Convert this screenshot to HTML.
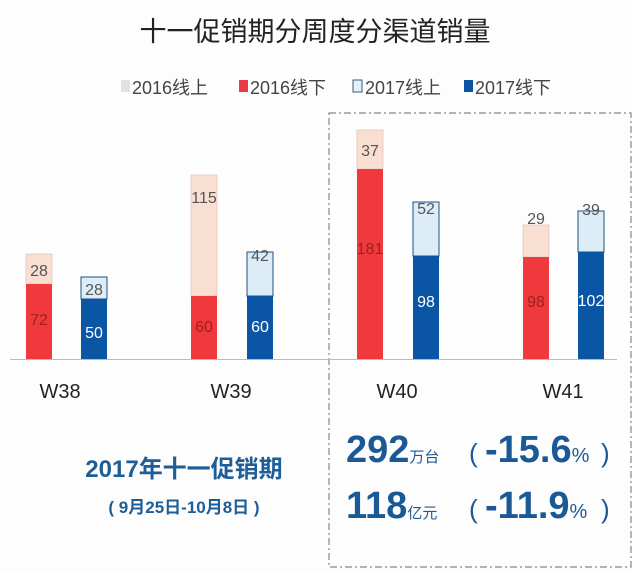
<!DOCTYPE html>
<html><head><meta charset="utf-8"><style>
html,body{margin:0;padding:0;background:#fff;}
svg{display:block;font-family:"Liberation Sans","Noto Sans CJK SC",sans-serif;}
</style></head><body>
<svg width="633" height="572" viewBox="0 0 633 572" xmlns="http://www.w3.org/2000/svg">
<rect width="633" height="572" fill="#fdfdfd"/>
<text x="315" y="41" font-size="27" text-anchor="middle" fill="#222">十一促销期分周度分渠道销量</text>
<g font-size="18" fill="#444">
<rect x="121" y="80" width="9" height="12" fill="#e6e0dc"/><text x="132" y="94">2016线上</text>
<rect x="239" y="80" width="9" height="12" fill="#ea3c48"/><text x="250" y="94">2016线下</text>
<rect x="353" y="80" width="9" height="12" fill="#e3f1f9" stroke="#335a80" stroke-width="1"/><text x="365" y="94">2017线上</text>
<rect x="464" y="80" width="9" height="12" fill="#0c55a3"/><text x="475" y="94">2017线下</text>
</g>
<rect x="329" y="113" width="302" height="454" fill="none" stroke="#7a8a98" stroke-width="1.2" stroke-dasharray="7,3,2,3"/>
<g stroke-width="1">
<rect x="26" y="254" width="26" height="30" fill="#f8dfd2" stroke="#e8cfc3"/>
<rect x="26" y="284" width="26" height="75" fill="#f0393c"/>
<rect x="81" y="277" width="26" height="22" fill="#dcedf8" stroke="#1f4f80"/>
<rect x="81" y="299" width="26" height="60" fill="#0a56a5"/>
<rect x="191" y="175" width="26" height="121" fill="#f8dfd2" stroke="#e8cfc3"/>
<rect x="191" y="296" width="26" height="63" fill="#f0393c"/>
<rect x="247" y="252" width="26" height="44" fill="#dcedf8" stroke="#1f4f80"/>
<rect x="247" y="296" width="26" height="63" fill="#0a56a5"/>
<rect x="357" y="130" width="26" height="39" fill="#f8dfd2" stroke="#e8cfc3"/>
<rect x="357" y="169" width="26" height="190" fill="#f0393c"/>
<rect x="413" y="202" width="26" height="54" fill="#dcedf8" stroke="#1f4f80"/>
<rect x="413" y="256" width="26" height="103" fill="#0a56a5"/>
<rect x="523" y="225" width="26" height="32" fill="#f8dfd2" stroke="#e8cfc3"/>
<rect x="523" y="257" width="26" height="102" fill="#f0393c"/>
<rect x="578" y="211" width="26" height="41" fill="#dcedf8" stroke="#1f4f80"/>
<rect x="578" y="252" width="26" height="107" fill="#0a56a5"/>
</g>
<line x1="10" y1="359.5" x2="617" y2="359.5" stroke="#bbb" stroke-width="1"/>
<g font-size="16" text-anchor="middle">
<text x="39" y="276" fill="#555">28</text>
<text x="39" y="325" fill="#a02020">72</text>
<text x="94" y="295" fill="#555">28</text>
<text x="94" y="338" fill="#fff">50</text>
<text x="204" y="203" fill="#555">115</text>
<text x="204" y="332" fill="#a02020">60</text>
<text x="260" y="261" fill="#555">42</text>
<text x="260" y="332" fill="#fff">60</text>
<text x="370" y="156" fill="#555">37</text>
<text x="370" y="254" fill="#a02020">181</text>
<text x="426" y="214" fill="#555">52</text>
<text x="426" y="307" fill="#fff">98</text>
<text x="536" y="224" fill="#555">29</text>
<text x="536" y="307" fill="#a02020">98</text>
<text x="591" y="215" fill="#555">39</text>
<text x="591" y="306" fill="#fff">102</text>
</g>
<g font-size="20" fill="#222" text-anchor="middle">
<text x="60" y="398">W38</text>
<text x="231" y="398">W39</text>
<text x="397" y="398">W40</text>
<text x="563" y="398">W41</text>
</g>
<text x="184" y="477" font-size="24" font-weight="bold" fill="#1d5d98" text-anchor="middle">2017年十一促销期</text>
<text x="184" y="513" font-size="17" font-weight="bold" fill="#1d5d98" text-anchor="middle">( 9月25日-10月8日 )</text>
<g fill="#1b5996" font-weight="bold">
<text x="346" y="462" font-size="38">292<tspan font-size="15" font-weight="normal">万台</tspan></text>
<text x="469" y="462" font-size="26" font-weight="normal">(</text>
<text x="485" y="462" font-size="38">-15.6<tspan font-size="20" font-weight="normal">%</tspan></text>
<text x="601" y="462" font-size="26" font-weight="normal">)</text>
<text x="346" y="518" font-size="38">118<tspan font-size="15" font-weight="normal">亿元</tspan></text>
<text x="469" y="518" font-size="26" font-weight="normal">(</text>
<text x="485" y="518" font-size="38">-11.9<tspan font-size="20" font-weight="normal">%</tspan></text>
<text x="601" y="518" font-size="26" font-weight="normal">)</text>
</g>
</svg>
</body></html>
